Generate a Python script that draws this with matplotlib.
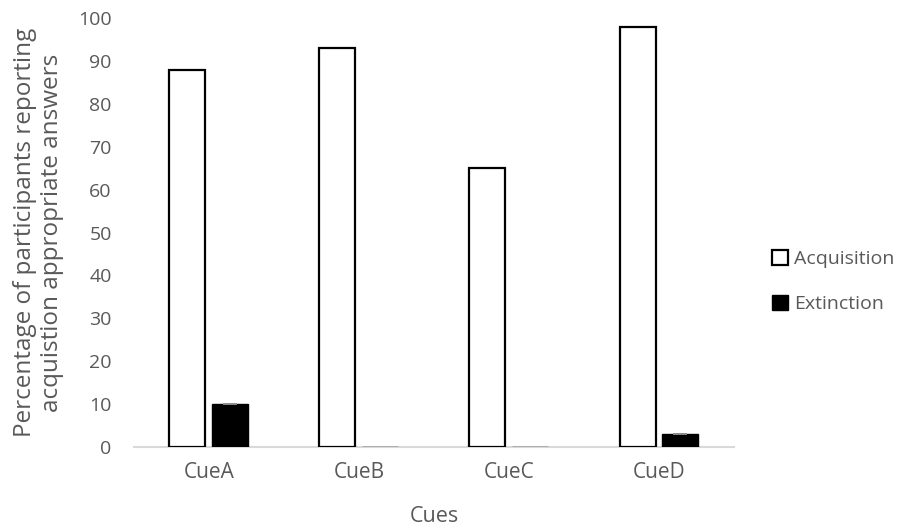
import numpy as np
import matplotlib.pyplot as plt

plt.rcParams['font.family'] = ['Open Sans', 'DejaVu Sans']

cues = ['CueA', 'CueB', 'CueC', 'CueD']
acquisition = [88, 93, 65, 98]
extinction = [10, 0, 0, 3]

txt = '#595959'
x = np.arange(len(cues))
ext = np.array(extinction)
w = 0.24
off = 0.143

fig = plt.figure(figsize=(9.05, 5.31), dpi=100)
ax = fig.add_axes([0.148, 0.158, 0.663, 0.808])

ax.bar(x - off, acquisition, w, color='white', edgecolor='black', linewidth=1.6,
       label='Acquisition', zorder=3)
ax.bar(x + off, extinction, w, color='black', edgecolor='black', linewidth=1.0,
       label='Extinction', zorder=3)
# zero-size error bars (grey caps) on the visible extinction bars
m = ext > 0
ax.errorbar(x[m] + off, ext[m], yerr=0, fmt='none',
            ecolor='#8c8c8c', capsize=5, capthick=1.2, zorder=4)

ax.set_xlim(-0.5, 3.5)
ax.set_ylim(0, 100)
ax.set_yticks(range(0, 101, 10))
ax.set_xticks(x)
ax.set_xticklabels(cues, fontsize=15)
ax.tick_params(axis='both', length=0, colors=txt)
ax.tick_params(axis='y', pad=16, labelsize=14)
ax.tick_params(axis='x', pad=11)

for s in ['top', 'right', 'left']:
    ax.spines[s].set_visible(False)
ax.spines['bottom'].set_color('#d9d9d9')
ax.spines['bottom'].set_linewidth(1.5)

ax.set_xlabel('Cues', fontsize=15.5, color=txt, labelpad=16)
ax.set_ylabel('Percentage of participants reporting\nacquistion appropriate answers',
              fontsize=17.5, color=txt, labelpad=10, linespacing=1.2)

fig.legend(loc='center left', bbox_to_anchor=(0.853, 0.47), frameon=False,
           borderpad=0, borderaxespad=0,
           fontsize=14, labelcolor=txt, handlelength=0.85, handleheight=0.85,
           handletextpad=0.3, labelspacing=1.35)

fig.savefig('out.png', dpi=100)
